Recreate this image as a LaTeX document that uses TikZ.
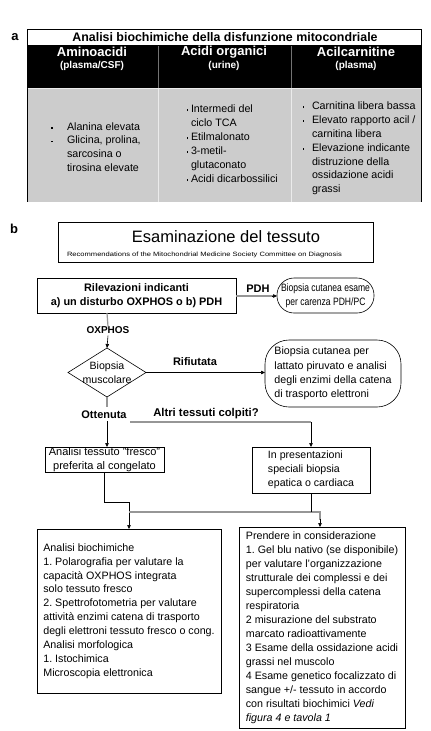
\documentclass[tikz,border=0pt]{standalone}
\usepackage{fontspec}
\setmainfont{Liberation Sans}
\usetikzlibrary{shapes.geometric,arrows.meta}
\newcommand{\bul}{\raisebox{0.3ex}{\rule{1.7pt}{1.7pt}}}
\newcommand{\fs}[2]{\fontsize{#1}{#2}\selectfont}
\definecolor{lgray}{RGB}{150,150,150}
\definecolor{bodygray}{RGB}{204,204,204}
\frenchspacing
\begin{document}
\begin{tikzpicture}[x=1pt,y=-1pt,
  every node/.style={inner sep=0pt, outer sep=0pt},
  box/.style={draw=black, line width=0.8pt, fill=white},
  roundbox/.style={draw=black, line width=0.6pt, rounded corners=#1},
  lbl/.style={font=\bfseries\fs{11}{13}},
  conn/.style={draw=black, line width=0.6pt},
  gconn/.style={draw=lgray, line width=1.2pt},
  arr/.style={-{Triangle[length=4pt,width=3.5pt]}},
]
\useasboundingbox (0,0) rectangle (431,731);
\fill[white] (0,0) rectangle (431,731);

% ---------- part a : table ----------
\node[font=\bfseries\fs{13}{15}] (la) at (15,37) {a};
\fill[bodygray] (27,88) rectangle (421,202);
\fill[black] (27,45) rectangle (421,88);
\draw[line width=0.8pt] (27,29) rectangle (421,45);
\draw[line width=0.8pt] (27,45) -- (27,202) (421,45) -- (421,202);
\draw[black!55, line width=0.8pt] (158,46) -- (158,88) (291,46) -- (291,88);
\draw[black!8, line width=0.8pt] (158,88) -- (158,202) (291,88) -- (291,202);
\draw[black!8, line width=0.6pt] (27.5,88.5) -- (420.5,88.5);
\node[font=\bfseries\fs{12.4}{15}] (ttl) at (225,37.5) {Analisi biochimiche della disfunzione mitocondriale};

\node[font=\bfseries\fs{13}{14}, text=white] (h1) at (92,52) {Aminoacidi};
\node[font=\bfseries\fs{10}{11}, text=white] (h1s) at (92,65.5) {(plasma/CSF)};
\node[font=\bfseries\fs{13}{14}, text=white] (h2) at (224,52) {Acidi organici};
\node[font=\bfseries\fs{10}{11}, text=white] (h2s) at (224,65.5) {(urine)};
\node[font=\bfseries\fs{13}{14}, text=white] (h3) at (356,52) {Acilcarnitine};
\node[font=\bfseries\fs{10}{11}, text=white] (h3s) at (356,65.5) {(plasma)};

\node[font=\fs{10.7}{13.6}, anchor=west, align=left] (c1) at (51,148) {%
  \begin{tabular}{@{}l@{}l@{}}
  \makebox[16pt][l]{\bul} & Alanina elevata\\
  \makebox[16pt][l]{\bul} & Glicina, prolina,\\
   & sarcosina o\\
   & tirosina elevate
  \end{tabular}};
\node[font=\fs{10.7}{14}, anchor=west, align=left] (c2) at (186.5,145) {%
  \begin{tabular}{@{}l@{}l@{}}
  \makebox[4.5pt][l]{\bul} & Intermedi del\\
   & ciclo TCA\\
  \makebox[4.5pt][l]{\bul} & Etilmalonato\\
  \makebox[4.5pt][l]{\bul} & 3-metil-\\
   & glutaconato\\
  \makebox[4.5pt][l]{\bul} & Acidi dicarbossilici
  \end{tabular}};
\node[font=\fs{10.7}{13.8}, anchor=west, align=left] (c3) at (302.5,148.5) {%
  \begin{tabular}{@{}l@{}l@{}}
  \makebox[9.5pt][l]{\bul} & Carnitina libera bassa\\
  \makebox[9.5pt][l]{\bul} & Elevato rapporto acil /\\
   & carnitina libera\\
  \makebox[9.5pt][l]{\bul} & Elevazione indicante\\
   & distruzione della\\
   & ossidazione acidi\\
   & grassi
  \end{tabular}};

% ---------- part b : flowchart ----------
\node[font=\bfseries\fs{13}{15}] (lb) at (14,229) {b};
\node[box, minimum width=315pt, minimum height=40pt] (tb) at (215.5,242) {};
\node[font=\fs{16.5}{18}] (tt) at (226,237) {Esaminazione del tessuto};
\node[font=\fs{6.2}{7}] (ts) at (204.5,254.5) {\scalebox{1.22}[1]{Recommendations of the Mitochondrial Medicine Society Committee on Diagnosis}};

\node[box, minimum width=199pt, minimum height=35pt, align=center, font=\bfseries\fs{10.9}{14}] (ril) at (136.5,295.5)
  {Rilevazioni indicanti\\ a) un disturbo OXPHOS o b) PDH};
\node[roundbox=17pt, minimum width=97pt, minimum height=35pt, align=center, font=\fs{10.7}{13.5}] (pdh) at (325.5,295.5)
  {\scalebox{0.8}[1]{Biopsia cutanea esame}\\ \scalebox{0.8}[1]{per carenza PDH/PC}};
\draw[gconn] (ril.east |- 0,296) -- (273,296);
\draw[conn, arr] (272,296) -- (pdh.west |- 0,296);
\node[lbl] (lpdh) at (258,288.5) {PDH};

\node[draw=black, line width=0.6pt, diamond, minimum width=78pt, minimum height=49pt, aspect=1.6] (dia) at (107,372.5) {};
\node[align=center, font=\fs{10.6}{14}] (diat) at (dia.center) {Biopsia\\muscolare};
\node[lbl, font=\bfseries\fs{10}{12}] (lox) at (108,330) {OXPHOS};
\draw[gconn] (ril.south -| dia.north) -- (lox.north);
\draw[conn, arr] (lox.south) ++(0,2) -- (dia.north);

\node[roundbox=24pt, minimum width=136pt, minimum height=67pt, align=left, font=\fs{10.7}{14.2}] (rif) at (333,373.5)
  {Biopsia cutanea per\\ lattato piruvato e analisi\\ degli enzimi della catena\\ di trasporto elettroni};
\draw[conn, arr] (dia.east) -- (rif.west |- dia.east);
\node[lbl] (lrif) at (195,361.5) {Rifiutata};

\node[box, line width=0.6pt, minimum width=119pt, minimum height=25pt, align=center, font=\fs{11}{14}] (fre) at (104.5,459.5)
  {Analisi tessuto "fresco"\\ preferita al congelato};
\node[box, line width=0.6pt, minimum width=118pt, minimum height=46pt, align=left, font=\fs{10.6}{14}] (pre) at (311,470)
  {In presentazioni\\ speciali biopsia\\ epatica o cardiaca};
\node[lbl] (lott) at (104,414.5) {Ottenuta};
\node[lbl, font=\bfseries\fs{11.3}{13}] (lalt) at (206,413.5) {Altri tessuti colpiti?};
\draw[gconn] (dia.south) -- (107,407);
\draw[conn, arr] (107,421) -- (fre.north -| dia.south);
\coordinate (a1) at (130,422);
\coordinate (a2) at (311,422);
\draw[gconn] (a1) -- (a2);
\draw[conn, arr] (a2) -- (pre.north);

\node[box, line width=0.6pt, minimum width=184pt, minimum height=164pt, align=left, font=\fs{10.7}{13.9}] (bl) at (129,611)
  {Analisi biochimiche\\
   1. Polarografia per valutare la\\
   capacità OXPHOS integrata\\
   solo tessuto fresco\\
   2. Spettrofotometria per valutare\\
   attività enzimi catena di trasporto\\
   degli elettroni tessuto fresco o cong.\\
   Analisi morfologica\\
   1. Istochimica\\
   Microscopia elettronica};
\node[box, line width=0.6pt, minimum width=166pt, minimum height=201pt, align=left, font=\fs{10.7}{14}] (br) at (322,627.5)
  {Prendere in considerazione\\
   1. Gel blu nativo (se disponibile)\\
   per valutare l'organizzazione\\
   strutturale dei complessi e dei\\
   supercomplessi della catena\\
   respiratoria\\
   2 misurazione del substrato\\
   marcato radioattivamente\\
   3 Esame della ossidazione acidi\\
   grassi nel muscolo\\
   4 Esame genetico focalizzato di\\
   sangue +/- tessuto in accordo\\
   con risultati biochimici \textit{Vedi}\\
   \textit{figura 4 e tavola 1}};

\coordinate (j0) at (fre.south |- 0,502);
\coordinate (j1) at (129,512);
\coordinate (j2) at (320,512);
\draw[conn, arr] (fre.south) -- (j0) -| (bl.north);
\draw[gconn] (j1) -- (j2) -- ++(0,8);
\draw[conn, arr] (320,519) -- (br.north -| j2);
\draw[conn] (pre.south) -- (pre.south |- j1);
\end{tikzpicture}
\end{document}
